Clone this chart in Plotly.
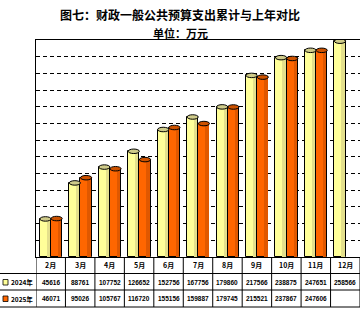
import plotly.graph_objects as go

months = ["2月", "3月", "4月", "5月", "6月", "7月", "8月", "9月", "10月", "11月", "12月"]
series_names = ["2024年", "2025年"]
v2024 = [45616, 88761, 107752, 126652, 152756, 167756, 179860, 217566, 238875, 247651, 258566]
v2025 = [46071, 95026, 105767, 116720, 155156, 159887, 179745, 215521, 237867, 247606, None]

W, H = 360, 317
L, R, T, B = 36, 0, 40, 60
PH = H - T - B          # plot height in px
PW = W - L - R
YMAX = 260000
FONT = "Noto Sans CJK SC"

def py(p):  # pixel y -> paper y
    return (H - B - p) / PH

def px(p):  # pixel x -> paper x
    return (p - L) / PW

n = len(months)
xs = list(range(n))
bw = 0.38
offs = [-0.37, 0.01]
body = ["#FFFF99", "#FF6600"]
shade = ["#E4E08C", "#E05800"]
capc = ["#CFCB8A", "#CC5200"]

fig = go.Figure()
for k, vals in enumerate([v2024, v2025]):
    xv = [x for x, v in zip(xs, vals) if v is not None]
    yv = [v for v in vals if v is not None]
    fig.add_trace(go.Bar(x=xv, y=yv, offset=offs[k], width=bw,
                         marker=dict(color=body[k], line=dict(color="black", width=1)),
                         name=series_names[k], showlegend=False, hoverinfo="skip"))
    fig.add_trace(go.Bar(x=xv, y=yv, offset=offs[k] + bw * 0.62, width=bw * 0.3,
                         marker=dict(color=shade[k], line=dict(width=0)),
                         showlegend=False, hoverinfo="skip"))

shapes = []
cap_h = 4.5 * YMAX / PH
for k, vals in enumerate([v2024, v2025]):
    for x, v in zip(xs, vals):
        if v is None:
            continue
        shapes.append(dict(type="circle", xref="x", yref="y",
                           x0=x + offs[k], x1=x + offs[k] + bw,
                           y0=v - cap_h / 2, y1=v + cap_h / 2,
                           fillcolor=capc[k], line=dict(color="black", width=1), layer="above"))

# table lines
row_lines = [273.5, 290, 307]
for p in row_lines:
    shapes.append(dict(type="line", xref="paper", yref="paper", x0=px(0), x1=1,
                       y0=py(p), y1=py(p), line=dict(color="black", width=1)))
for i in range(n + 1):
    shapes.append(dict(type="line", xref="x", yref="paper", x0=i - 0.5, x1=i - 0.5,
                       y0=0, y1=py(307), line=dict(color="black", width=1)))

annotations = []
row_y = [265, 282, 298.5]
for i, m in enumerate(months):
    annotations.append(dict(x=i, y=py(row_y[0]), xref="x", yref="paper", text="<b>" + m + "</b>",
                            xanchor="center", yanchor="middle",
                            showarrow=False, font=dict(size=7, family=FONT, color="black")))
for r, vals in enumerate([v2024, v2025]):
    for i, v in enumerate(vals):
        if v is None:
            continue
        annotations.append(dict(x=i, y=py(row_y[r + 1]), xref="x", yref="paper",
                                text="<b>" + str(v) + "</b>",
                                xanchor="center", yanchor="middle",
                                showarrow=False, font=dict(size=6.5, family="Liberation Sans", color="black")))
# legend in left column
for r in range(2):
    yc = row_y[r + 1]
    shapes.append(dict(type="rect", xref="paper", yref="paper", x0=px(3), x1=px(8),
                       y0=py(yc + 3), y1=py(yc - 2.5), fillcolor=body[r],
                       line=dict(color="black", width=0.8)))
    annotations.append(dict(x=px(9), y=py(yc), xref="paper", yref="paper",
                            text="<b>" + series_names[r] + "</b>",
                            xanchor="left", yanchor="middle", showarrow=False,
                            font=dict(size=6.5, family=FONT, color="black")))

annotations.append(dict(x=(180 - L) / PW, y=py(15), xref="paper", yref="paper",
                        text="<b>图七：财政一般公共预算支出累计与上年对比</b>", showarrow=False,
                        xanchor="center", yanchor="middle",
                        font=dict(size=12, family=FONT, color="black")))
annotations.append(dict(x=(180 - L) / PW, y=py(33), xref="paper", yref="paper",
                        text="<b>单位：万元</b>", showarrow=False,
                        xanchor="center", yanchor="middle",
                        font=dict(size=11, family=FONT, color="black")))

fig.update_layout(
    width=W, height=H, margin=dict(l=L, r=R, t=T, b=B, pad=0, autoexpand=False),
    paper_bgcolor="white", plot_bgcolor="white",
    barmode="overlay", bargap=0, showlegend=False,
    shapes=shapes, annotations=annotations,
    xaxis=dict(range=[-0.5, n - 0.5], showticklabels=False, ticks="", showgrid=False,
               zeroline=False, showline=True, linecolor="black", linewidth=1, mirror=True,
               fixedrange=True, automargin=False),
    yaxis=dict(range=[0, YMAX], dtick=20000, showticklabels=False, ticks="",
               showgrid=True, gridcolor="black", gridwidth=1, griddash="4px,3px",
               zeroline=False, showline=True, linecolor="black", linewidth=1, mirror=True,
               fixedrange=True, automargin=False),
)

fig.write_html("out.html", config={"displayModeBar": False})
